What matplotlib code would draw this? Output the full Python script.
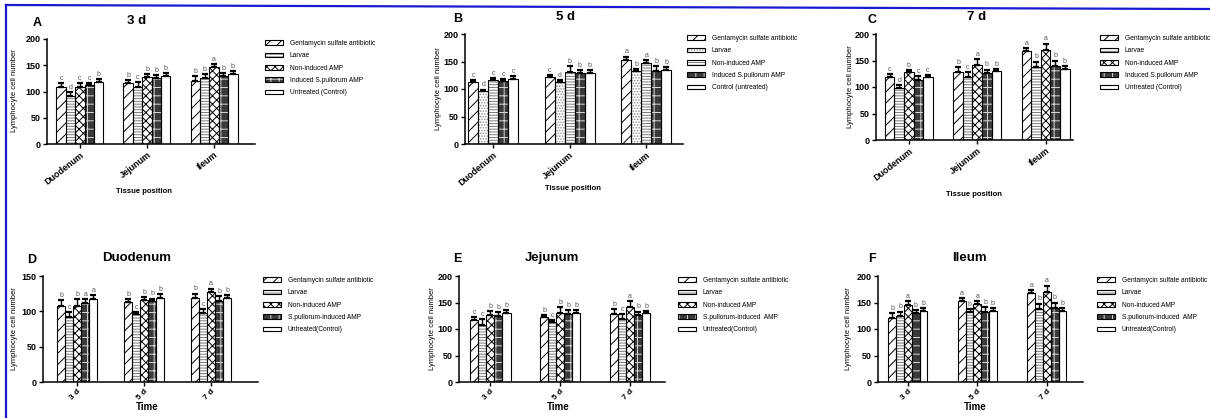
import matplotlib
matplotlib.use("Agg")
import matplotlib.pyplot as plt
from matplotlib.lines import Line2D
from matplotlib.legend_handler import HandlerTuple
import numpy as np

plt.rcParams["font.family"] = ["Liberation Sans", "DejaVu Sans"]
plt.rcParams["hatch.linewidth"] = 0.7

W_PX, H_PX = 1210, 418

# ── Data (rows: tissue or time group, columns: treatment) ───────────────────
TISSUES = ["Duodenum", "Jejunum", "Ileum"]
TIMES = ["3 d", "5 d", "7 d"]

# means by tissue (rows) for each sampling day
MEAN_3D = [[108, 92, 108, 112, 118],
           [117, 108, 127, 125, 130],
           [120, 125, 146, 130, 134]]
ERR_3D = [[8, 7, 9, 5, 5],
          [5, 10, 7, 7, 5],
          [10, 8, 7, 6, 5]]
MEAN_5D = [[113, 96, 116, 114, 119],
           [122, 113, 131, 129, 130],
           [152, 133, 147, 132, 134]]
ERR_5D = [[4, 3, 4, 4, 5],
          [4, 4, 10, 6, 5],
          [7, 4, 6, 10, 6]]
MEAN_7D = [[119, 98, 128, 114, 119],
           [128, 119, 142, 127, 130],
           [167, 137, 169, 139, 134]]
ERR_7D = [[6, 5, 4, 7, 4],
          [10, 10, 10, 6, 4],
          [7, 11, 13, 11, 5]]

# significance letters per panel (rows follow the panel's x groups)
LETTERS_A = [["c", "d", "c", "c", "b"], ["b", "c", "b", "b", "b"], ["b", "b", "a", "b", "b"]]
LETTERS_B = [["c", "d", "c", "c", "c"], ["c", "d", "b", "b", "b"], ["a", "b", "a", "b", "b"]]
LETTERS_C = [["c", "d", "b", "c", "c"], ["b", "c", "a", "b", "b"], ["a", "b", "a", "b", "b"]]
LETTERS_D = [["b", "c", "b", "a", "a"], ["b", "c", "b", "b", "b"], ["b", "c", "a", "b", "b"]]
LETTERS_E = [["c", "c", "b", "b", "b"], ["b", "c", "b", "b", "b"], ["b", "c", "a", "b", "b"]]
LETTERS_F = [["b", "b", "a", "b", "b"], ["a", "b", "a", "b", "b"], ["a", "b", "a", "b", "b"]]

LABELS_AC = ["Gentamycin sulfate antibiotic", "Larvae", "Non-induced AMP",
             "Induced S.pullorum AMP", "Untreated (Control)"]
LABELS_B = ["Gentamycin sulfate antibiotic", "Larvae", "Non-induced AMP",
            "Induced S.pullorum AMP", "Control (untreated)"]
LABELS_D = ["Gentamycin sulfate antibiotic", "Larvae", "Non-induced AMP",
            "S.pullorum-induced AMP", "Untreated(Control)"]
LABELS_EF = ["Gentamycin sulfate antibiotic", "Larvae", "Non-induced AMP",
             "S.pullorum-induced  AMP", "Untreated(Control)"]

# ── Styles ───────────────────────────────────────────────────────────────────
_STYLE_STD = [
    dict(face="white", hatch="///", hcolor="black"),
    dict(face="white", hatch="------", hcolor="#7a7a7a"),
    dict(face="white", hatch="xxxx", hcolor="black"),
    dict(face="#3a3a3a", hatch="++", hcolor="#d8d8d8"),
    dict(face="white", hatch="", hcolor="black"),
]
_STYLE_B = [
    _STYLE_STD[0],
    dict(face="white", hatch="......", hcolor="#8a8a8a"),
    dict(face="white", hatch="------", hcolor="#7a7a7a"),
    _STYLE_STD[3],
    _STYLE_STD[4],
]


def px(x, y):
    """pixel (from top-left) -> figure fraction"""
    return x / W_PX, 1 - y / H_PX


def draw_panel(fig, box, means, errs, letters, labels, styles, groups,
               ylim, yticks, xlim, width, tick_fs, tick_rot, legend_xy):
    left, top, right, bottom = box
    x0, y0 = px(left, bottom)
    x1, y1 = px(right, top)
    ax = fig.add_axes([x0, y0, x1 - x0, y1 - y0])

    means = np.asarray(means, dtype=float)
    errs = np.asarray(errs, dtype=float)
    x = np.arange(len(groups))
    n = means.shape[1]
    handles = []
    for i in range(n):
        st = styles[i]
        xi = x + (i - (n - 1) / 2) * width
        fill = ax.bar(xi, means[:, i], width, color=st["face"], edgecolor=st["hcolor"],
                      hatch=st["hatch"], linewidth=0, zorder=2)
        edge = ax.bar(xi, means[:, i], width, fill=False, edgecolor="black",
                      linewidth=0.8, zorder=3)
        ax.errorbar(xi, means[:, i], yerr=[np.zeros(len(x)), errs[:, i]], fmt="none",
                    ecolor="black", elinewidth=1.0, capsize=2.2, capthick=1.6, zorder=4)
        for xx, m, e, lt in zip(xi, means[:, i], errs[:, i], [row[i] for row in letters]):
            ax.text(xx, m + e + 2, lt, ha="center", va="bottom", fontsize=5, color="#555555")
        handles.append((fill[0], edge[0]))

    ax.set_xlim(*xlim)
    ax.set_ylim(*ylim)
    ax.set_yticks(yticks)
    ax.set_xticks(x)
    ax.set_xticklabels(groups, rotation=tick_rot, ha="right", rotation_mode="anchor",
                       fontsize=tick_fs, fontweight="bold")
    for lab in ax.get_yticklabels():
        lab.set_fontsize(6.5)
        lab.set_fontweight("bold")
    ax.tick_params(axis="both", length=3, width=1, pad=1.5)
    for side in ("top", "right"):
        ax.spines[side].set_visible(False)
    for side in ("left", "bottom"):
        ax.spines[side].set_linewidth(1.1)

    lx, ly = px(*legend_xy)
    ax.legend(handles, labels, handler_map={tuple: HandlerTuple(ndivide=1)},
              loc="upper left", bbox_to_anchor=(lx, ly), bbox_transform=fig.transFigure,
              frameon=False, fontsize=4.8, borderpad=0, borderaxespad=0,
              handlelength=2.7, handleheight=0.7, handletextpad=1.0, labelspacing=0.8)
    return ax


def _by_time(tissue_idx):
    return ([MEAN_3D[tissue_idx], MEAN_5D[tissue_idx], MEAN_7D[tissue_idx]],
            [ERR_3D[tissue_idx], ERR_5D[tissue_idx], ERR_7D[tissue_idx]])


fig = plt.figure(figsize=(W_PX / 100, H_PX / 100), dpi=100)

# top row: by tissue position
draw_panel(fig, (47, 39, 255, 144), MEAN_3D, ERR_3D, LETTERS_A, LABELS_AC, _STYLE_STD,
           TISSUES, (0, 200), [0, 50, 100, 150, 200], (-0.49, 2.61), 0.14, 6.5, 38, (265, 40))
draw_panel(fig, (465, 34, 683, 144), MEAN_5D, ERR_5D, LETTERS_B, LABELS_B, _STYLE_B,
           TISSUES, (0, 200), [0, 50, 100, 150, 200], (-0.37, 2.48), 0.13, 6.5, 40, (687, 35))
draw_panel(fig, (876, 34, 1073, 140), MEAN_7D, ERR_7D, LETTERS_C, LABELS_AC, _STYLE_STD,
           TISSUES, (0, 200), [0, 50, 100, 150, 200], (-0.48, 2.40), 0.14, 6.5, 38, (1100, 35))

# bottom row: by time
m, e = _by_time(0)
draw_panel(fig, (43, 276, 258, 382), m, e, LETTERS_D, LABELS_D, _STYLE_STD,
           TIMES, (0, 150), [0, 50, 100, 150], (-0.51, 2.70), 0.12, 6, 45, (263, 277))
m, e = _by_time(1)
draw_panel(fig, (459, 276, 665, 382), m, e, LETTERS_E, LABELS_EF, _STYLE_STD,
           TIMES, (0, 200), [0, 50, 100, 150, 200], (-0.45, 2.50), 0.115, 6, 45, (678, 277))
m, e = _by_time(2)
draw_panel(fig, (878, 276, 1083, 382), m, e, LETTERS_F, LABELS_EF, _STYLE_STD,
           TIMES, (0, 200), [0, 50, 100, 150, 200], (-0.43, 2.52), 0.112, 6, 45, (1097, 277))

# panel letters / titles
for letter, (lx, ly), title, (tx, ty) in [
    ("A", (37, 23), "3 d", (137, 21)),
    ("B", (458, 19), "5 d", (565, 17)),
    ("C", (872, 20), "7 d", (977, 17)),
    ("D", (32, 260), "Duodenum", (137, 258)),
    ("E", (457, 259), "Jejunum", (552, 258)),
    ("F", (872, 259), "Ileum", (969, 258)),
]:
    fig.text(*px(lx, ly), letter, ha="center", va="center", fontsize=9, fontweight="bold")
    fig.text(*px(tx, ty), title, ha="center", va="center", fontsize=9.5, fontweight="bold")

# x / y axis titles
for txt, (x, y) in [("Tissue position", (144, 192)), ("Tissue position", (573, 188)),
                    ("Tissue position", (974, 195))]:
    fig.text(*px(x, y), txt, ha="center", va="center", fontsize=5.5, fontweight="bold")
for x in (147, 558, 975):
    fig.text(*px(x, 407), "Time", ha="center", va="center", fontsize=7, fontweight="bold")
for x, y in [(15, 91), (439, 89), (850, 87), (15, 329), (432, 329), (848, 329)]:
    fig.text(*px(x, y), "Lymphocyte cell number", ha="center", va="center",
             rotation=90, fontsize=5.5)

# blue frame lines (top and left)
fig.add_artist(Line2D([6 / W_PX, 1], [1 - 5 / H_PX, 1 - 9 / H_PX], color="#1a1ad0",
                      linewidth=1.6, transform=fig.transFigure))
fig.add_artist(Line2D([6 / W_PX, 6 / W_PX], [0, 1 - 5 / H_PX], color="#1a1ad0",
                      linewidth=1.6, transform=fig.transFigure))

fig.savefig("out.png", dpi=100)
